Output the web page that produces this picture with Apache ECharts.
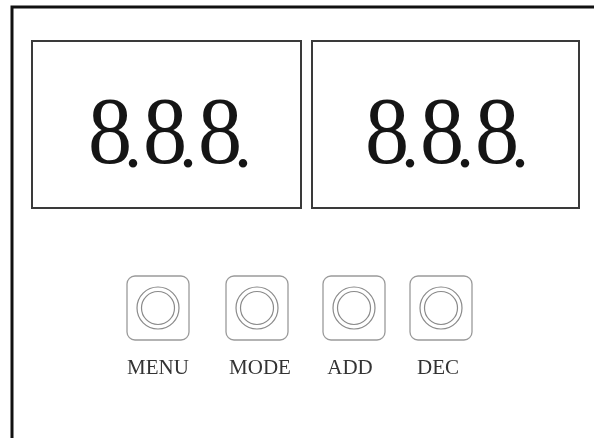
<!DOCTYPE html>
<html><head><meta charset="utf-8">
<script src="https://cdn.jsdelivr.net/npm/echarts@6/dist/echarts.min.js"></script>
<style>html,body{margin:0;padding:0;background:#fff}#c{width:594px;height:438px}</style>
</head><body><div id="c"></div>
<script>
// ---- data ----
var displayTexts = ['8.8.8.', '8.8.8.'];
var buttonLabels = ['MENU', 'MODE', 'ADD', 'DEC'];

// ---- layout (positions/sizes, kept apart from data) ----
var displayBoxes = [[32, 41, 269, 167], [312, 41, 267, 167]];
var displayTextStart = [110, 387];   // centre of first digit
var buttonCenters = [158, 257, 354, 441];
var labelCenters = [158, 260, 350, 438];

var chart = echarts.init(document.getElementById('c'), null, {renderer: 'canvas'});
var g = [];
g.push({type: 'polyline', shape: {points: [[12, 438], [12, 7], [594, 7]]},
  style: {stroke: '#111', lineWidth: 3, fill: null}});

var serif = '"Liberation Serif", "Times New Roman", serif';
displayTexts.forEach(function (txt, i) {
  var b = displayBoxes[i];
  g.push({type: 'rect', shape: {x: b[0], y: b[1], width: b[2], height: b[3]},
    style: {stroke: '#3a3a3a', lineWidth: 2, fill: null}});
  var x = displayTextStart[i];
  for (var k = 0; k < txt.length; k++) {
    var ch = txt[k];
    if (ch === '.') {
      g.push({type: 'text', x: x + 23, y: 148, style: {text: ch, x: 0, y: 0,
        fontFamily: serif, fontSize: 72, fill: '#151515', align: 'center', verticalAlign: 'middle'}});
      x += 55;
    } else {
      g.push({type: 'text', x: x, y: 138, scaleX: 0.92, style: {text: ch, x: 0, y: 0,
        fontFamily: serif, fontSize: 96, fill: '#151515', align: 'center', verticalAlign: 'middle'}});
    }
  }
});

buttonLabels.forEach(function (lab, i) {
  var cx = buttonCenters[i], cy = 308;
  g.push({type: 'rect', shape: {x: cx - 31, y: cy - 32, width: 62, height: 64, r: 8},
    style: {stroke: '#9a9a9a', lineWidth: 1.3, fill: null}});
  g.push({type: 'circle', shape: {cx: cx, cy: cy, r: 21}, style: {stroke: '#8a8a8a', lineWidth: 1.2, fill: null}});
  g.push({type: 'circle', shape: {cx: cx, cy: cy, r: 16.5}, style: {stroke: '#8a8a8a', lineWidth: 1.2, fill: null}});
  g.push({type: 'text', style: {text: lab, x: labelCenters[i], y: 368, fontFamily: serif, fontSize: 21,
    fill: '#333', align: 'center', verticalAlign: 'middle'}});
});

chart.setOption({animation: false, backgroundColor: '#fff', graphic: {elements: g}});
</script></body></html>
